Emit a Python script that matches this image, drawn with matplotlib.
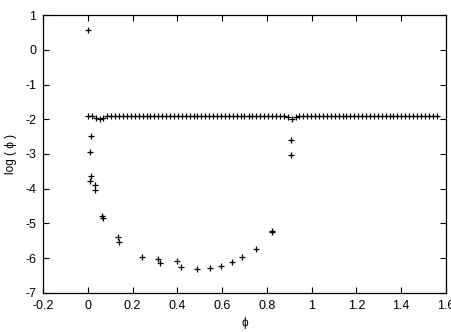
import matplotlib
matplotlib.use("Agg")
import matplotlib.pyplot as plt

plt.rcParams['font.family'] = ['Liberation Sans', 'DejaVu Sans']
plt.rcParams['axes.unicode_minus'] = False

# upper series: nearly flat line of points
x_flat = [0.000, 0.018, 0.035, 0.053, 0.070, 0.088, 0.105, 0.123, 0.140, 0.158,
          0.175, 0.193, 0.210, 0.228, 0.245, 0.263, 0.280, 0.298, 0.315, 0.333,
          0.350, 0.368, 0.385, 0.403, 0.420, 0.438, 0.455, 0.473, 0.490, 0.508,
          0.525, 0.543, 0.560, 0.578, 0.595, 0.613, 0.630, 0.648, 0.665, 0.683,
          0.700, 0.718, 0.735, 0.753, 0.770, 0.788, 0.805, 0.823, 0.840, 0.858,
          0.875, 0.893, 0.910, 0.928, 0.945, 0.963, 0.980, 0.998, 1.015, 1.033,
          1.050, 1.068, 1.085, 1.103, 1.120, 1.138, 1.155, 1.173, 1.190, 1.208,
          1.225, 1.243, 1.260, 1.278, 1.295, 1.313, 1.330, 1.348, 1.365, 1.383,
          1.400, 1.418, 1.435, 1.453, 1.470, 1.488, 1.505, 1.523, 1.540, 1.558]
y_flat = [-1.91, -1.91, -1.95, -1.99, -1.95, -1.92, -1.91, -1.91, -1.91, -1.91,
          -1.91, -1.91, -1.91, -1.91, -1.91, -1.91, -1.91, -1.91, -1.91, -1.91,
          -1.91, -1.91, -1.91, -1.91, -1.91, -1.91, -1.91, -1.91, -1.91, -1.91,
          -1.91, -1.91, -1.91, -1.91, -1.91, -1.91, -1.91, -1.91, -1.91, -1.91,
          -1.91, -1.91, -1.91, -1.91, -1.91, -1.91, -1.91, -1.91, -1.91, -1.91,
          -1.92, -1.94, -1.98, -1.94, -1.92, -1.91, -1.91, -1.91, -1.91, -1.91,
          -1.91, -1.91, -1.91, -1.91, -1.91, -1.91, -1.91, -1.91, -1.91, -1.91,
          -1.91, -1.91, -1.91, -1.91, -1.91, -1.91, -1.91, -1.91, -1.91, -1.91,
          -1.91, -1.91, -1.91, -1.91, -1.91, -1.91, -1.91, -1.91, -1.91, -1.91]

# lower series: scattered points forming a valley
x_low = [0.00, 0.013, 0.010, 0.013, 0.008, 0.034, 0.033, 0.064, 0.066,
         0.137, 0.141, 0.244, 0.315, 0.324, 0.399, 0.417, 0.488, 0.545,
         0.597, 0.644, 0.689, 0.753, 0.821, 0.823, 0.909, 0.906]
y_low = [0.58, -2.47, -2.93, -3.62, -3.79, -3.90, -4.05, -4.78, -4.84,
         -5.40, -5.53, -5.95, -6.02, -6.15, -6.09, -6.26, -6.30, -6.28,
         -6.23, -6.11, -5.97, -5.72, -5.21, -5.24, -2.61, -3.02]

xticks = [-0.2, 0, 0.2, 0.4, 0.6, 0.8, 1, 1.2, 1.4, 1.6]
xticklabels = ['-0.2', '0', '0.2', '0.4', '0.6', '0.8', '1', '1.2', '1.4', '1.6']
yticks = [1, 0, -1, -2, -3, -4, -5, -6, -7]
yticklabels = ['1', '0', '-1', '-2', '-3', '-4', '-5', '-6', '-7']

fig = plt.figure(figsize=(4.52, 3.32), dpi=100)
ax = fig.add_axes([0.0951, 0.1175, 0.8916, 0.8373])

ax.plot(x_flat, y_flat, linestyle='none', marker='+', color='black',
        markersize=5, markeredgewidth=0.9)
ax.plot(x_low, y_low, linestyle='none', marker='+', color='black',
        markersize=5, markeredgewidth=0.9)

ax.set_xlim(-0.2, 1.6)
ax.set_ylim(-7, 1)
ax.set_xticks(xticks)
ax.set_xticklabels(xticklabels)
ax.set_yticks(yticks)
ax.set_yticklabels(yticklabels)
ax.tick_params(direction='in', length=4, width=0.8, top=True, right=True,
               labelsize=9, pad=5)
for s in ax.spines.values():
    s.set_linewidth(0.9)

ax.set_xlabel('ϕ', fontsize=8.5, labelpad=4)
ax.set_ylabel('log ( ϕ )', fontsize=8.5, labelpad=6)

fig.savefig('out.png', dpi=100)
